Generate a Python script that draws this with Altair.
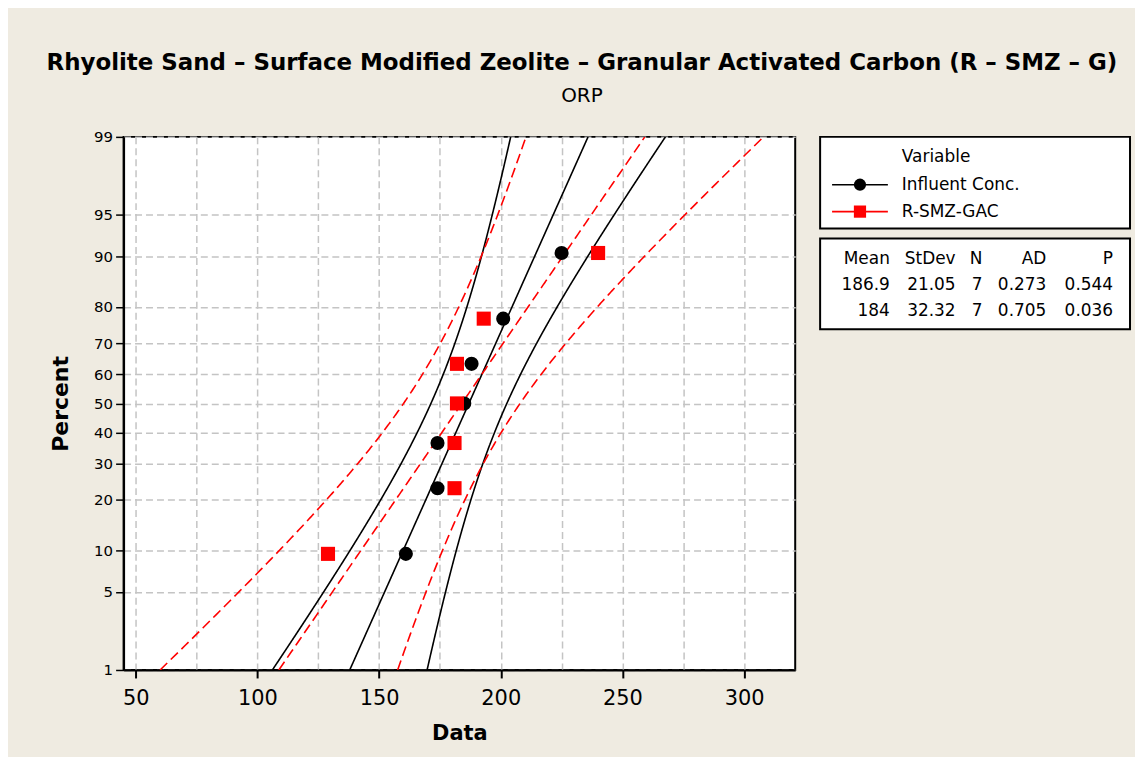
import altair as alt
import pandas as pd
from statistics import NormalDist

# ---------------- data ----------------
SERIES = ["Influent Conc.", "R-SMZ-GAC"]
COLORS = ["#000000", "#FF0000"]
influent_values = [161, 174, 174, 185, 188, 201, 225]
rsmz_values = [129, 181, 181, 182, 182, 193, 240]
plot_percent = [9.46, 22.97, 36.49, 50.0, 63.51, 77.03, 90.54]
mean_vals = [186.9, 184.0]
stdev_vals = [21.05, 32.32]
n_vals = [7, 7]
ad_vals = [0.273, 0.705]
p_vals = [0.544, 0.036]
table_headers = ["Mean", "StDev", "N", "AD", "P"]
percent_ticks = [1, 5, 10, 20, 30, 40, 50, 60, 70, 80, 90, 95, 99]
data_ticks = [50, 75, 100, 125, 150, 175, 200, 225, 250, 275, 300]
x_domain = [45, 321]

FONT = "DejaVu Sans"
BG = "#EFEBE1"
GRID = "#C4C4C4"

nd = NormalDist()
z_ticks = [nd.inv_cdf(p / 100) for p in percent_ticks]
z_domain = [z_ticks[0], z_ticks[-1]]

points = pd.DataFrame({
    "series": [SERIES[0]] * len(influent_values) + [SERIES[1]] * len(rsmz_values),
    "value": influent_values + rsmz_values,
    "percent": plot_percent + plot_percent,
})
stats = pd.DataFrame({"series": SERIES, "mean": mean_vals, "sd": stdev_vals, "n": n_vals})

color_scale = alt.Scale(domain=SERIES, range=COLORS)
shape_scale = alt.Scale(domain=SERIES, range=["circle", "square"])
dash_scale = alt.Scale(domain=SERIES, range=[[1, 0], [10, 5]])

x_enc = alt.X(
    "value:Q",
    scale=alt.Scale(domain=x_domain, nice=False, zero=False),
    axis=alt.Axis(
        values=data_ticks,
        labelExpr="datum.value % 50 == 0 ? datum.label : ''",
        tickOpacity=alt.condition("datum.value % 50 == 0", alt.value(1), alt.value(0)),
        tickSize=8, tickWidth=2, tickColor="black",
        domainColor="black", domainWidth=2,
        grid=True, gridColor=GRID, gridDash=[7, 4], gridWidth=1.5,
        labelFont=FONT, labelFontSize=21, labelColor="black", labelPadding=10,
        titleFont=FONT, titleFontSize=21, titleFontWeight="bold", titleColor="black",
        titlePadding=14,
    ),
    title="Data",
)
y_enc = alt.Y(
    "z:Q",
    scale=alt.Scale(domain=z_domain, nice=False, zero=False),
    axis=alt.Axis(
        values=z_ticks,
        labelExpr="format(round(cumulativeNormal(datum.value) * 100), 'd')",
        tickSize=8, tickWidth=1.5, tickColor="black",
        domainColor="black", domainWidth=2,
        grid=True, gridColor=GRID, gridDash=[7, 4], gridWidth=1.5,
        labelFont=FONT, labelFontSize=15, labelColor="black", labelPadding=3,
        titleFont=FONT, titleFontSize=22, titleFontWeight="bold", titleColor="black",
        titlePadding=21,
    ),
    title="Percent",
)

curves = (
    alt.Chart(stats)
    .transform_calculate(p="sequence(1, 99.01, 0.25)")
    .transform_flatten(["p"])
    .transform_calculate(z="quantileNormal(datum.p / 100)")
    .transform_calculate(
        fit="datum.mean + datum.sd * datum.z",
        half="1.96 * datum.sd * sqrt(1 / datum.n + datum.z * datum.z / (2 * (datum.n - 1)))",
    )
    .transform_calculate(lo="datum.fit - datum.half", hi="datum.fit + datum.half")
    .transform_fold(["lo", "fit", "hi"], as_=["kind", "value"])
    .mark_line(clip=True, strokeWidth=1.6)
    .encode(
        x=x_enc,
        y=y_enc,
        color=alt.Color("series:N", scale=color_scale, legend=None),
        strokeDash=alt.StrokeDash("series:N", scale=dash_scale, legend=None),
        detail="kind:N",
        order="p:Q",
    )
)

pts = (
    alt.Chart(points)
    .transform_calculate(z="quantileNormal(datum.percent / 100)")
    .mark_point(filled=True, size=200, opacity=1)
    .encode(
        x=x_enc,
        y=y_enc,
        color=alt.Color("series:N", scale=color_scale, legend=None),
        shape=alt.Shape("series:N", scale=shape_scale, legend=None),
    )
)

main = alt.layer(curves, pts).properties(width=674, height=535)

# ---------------- legend box ----------------
legend_df = pd.DataFrame({"series": SERIES})
ly = alt.Y("series:N", scale=alt.Scale(type="point", domain=SERIES, range=[48, 75], padding=0), axis=None)
lcol = alt.Color("series:N", scale=color_scale, legend=None)
leg_rule = alt.Chart(legend_df).mark_rule(strokeWidth=1.6).encode(
    x=alt.value(12), x2=alt.value(68), y=ly, color=lcol)
leg_pt = alt.Chart(legend_df).mark_point(filled=True, size=150, opacity=1).encode(
    x=alt.value(40), y=ly, color=lcol,
    shape=alt.Shape("series:N", scale=shape_scale, legend=None))
leg_txt = alt.Chart(legend_df).mark_text(align="left", baseline="middle", font=FONT, fontSize=17, color="black").encode(
    x=alt.value(82), y=ly, text="series:N")
leg_title = alt.Chart(pd.DataFrame({"t": ["Variable"]})).mark_text(
    align="left", baseline="middle", font=FONT, fontSize=17, color="black").encode(
    x=alt.value(82), y=alt.value(20), text="t:N")
legend = alt.layer(leg_rule, leg_pt, leg_txt, leg_title).properties(width=311, height=92)

# ---------------- statistics table ----------------
def fmt_mean(v):
    return f"{v:g}"

rows = ["hdr"] + SERIES
cells = []
for h in table_headers:
    cells.append({"row": "hdr", "col": h, "txt": h})
for i, s in enumerate(SERIES):
    cells.append({"row": s, "col": "Mean", "txt": fmt_mean(mean_vals[i])})
    cells.append({"row": s, "col": "StDev", "txt": f"{stdev_vals[i]:.2f}"})
    cells.append({"row": s, "col": "N", "txt": str(n_vals[i])})
    cells.append({"row": s, "col": "AD", "txt": f"{ad_vals[i]:.3f}"})
    cells.append({"row": s, "col": "P", "txt": f"{p_vals[i]:.3f}"})
table_df = pd.DataFrame(cells)
col_right = {"Mean": 70, "StDev": 136, "N": 163, "AD": 227, "P": 294}
ty = alt.Y("row:N", scale=alt.Scale(type="point", domain=rows, range=[21, 73], padding=0), axis=None)
table_layers = []
for h in table_headers:
    table_layers.append(
        alt.Chart(table_df)
        .transform_filter(alt.datum.col == h)
        .mark_text(align="right", baseline="middle", font=FONT, fontSize=17, color="black")
        .encode(x=alt.value(col_right[h]), y=ty, text="txt:N")
    )
table = alt.layer(*table_layers).properties(width=311, height=91)

right = alt.vconcat(legend, table, spacing=8)

chart = (
    alt.hconcat(main, right, spacing=25, bounds="flush")
    .properties(
        title=alt.TitleParams(
            text="Rhyolite Sand \u2013 Surface Modified Zeolite \u2013 Granular Activated Carbon (R \u2013 SMZ \u2013 G)",
            subtitle="ORP",
            font=FONT, fontSize=23, fontWeight="bold", color="black",
            subtitleFont=FONT, subtitleFontSize=20, subtitleColor="black",
            subtitlePadding=11, anchor="middle", offset=23, dx=-8,
        ),
        padding={"left": 38, "top": 43, "right": 4, "bottom": 11},
        background=BG,
    )
    .configure_view(stroke="black", strokeWidth=2, fill="white")
)

chart.save("out.html", embed_options={"renderer": "svg", "actions": False})
